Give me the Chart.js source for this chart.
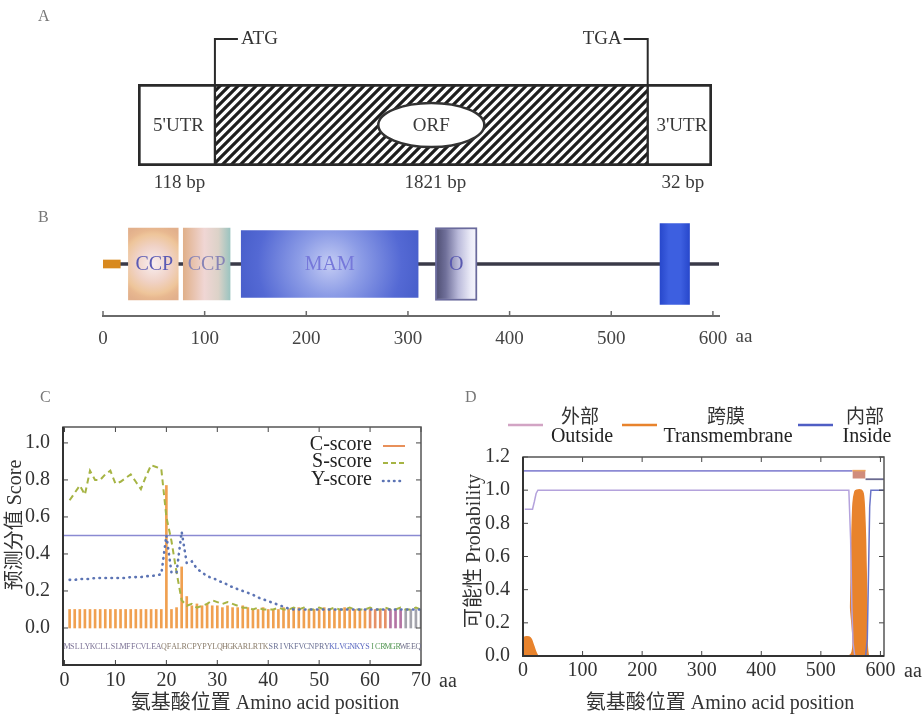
<!DOCTYPE html>
<html>
<head>
<meta charset="utf-8">
<script src="https://cdn.jsdelivr.net/npm/chart.js@4.4.1/dist/chart.umd.min.js"></script>
<style>
  body { margin: 0; background: #fff; }
  #page { position: relative; width: 923px; height: 716px; overflow: hidden; }
  canvas { position: absolute; }
  .tag { position: absolute; font: 16px "Liberation Serif", serif; color: #777; z-index: 2; }
</style>
</head>
<body>
<div id="page">
  <canvas id="chartA" width="923" height="200" style="left:0px;top:0px"></canvas>
  <canvas id="chartB" width="923" height="170" style="left:0px;top:200px"></canvas>
  <canvas id="chartC" width="460" height="336" style="left:0px;top:380px"></canvas>
  <canvas id="chartD" width="463" height="336" style="left:460px;top:380px"></canvas>
  <span class="tag" style="left:38px;top:7px">A</span>
  <span class="tag" style="left:38px;top:208px">B</span>
  <span class="tag" style="left:40px;top:388px">C</span>
  <span class="tag" style="left:465px;top:388px">D</span>
</div>
<script>
// ---------- data ----------
// A: transcript structure (schematic widths, not to scale)
const mrnaParts = ["5'UTR", "ORF", "3'UTR"];
const mrnaLengths = ["118 bp", "1821 bp", "32 bp"];
const mrnaSpans = [[0, 1.34], [1.34, 8.88], [8.88, 10]];
const codonLabels = ["ATG", "TGA"];

// B: domain architecture (aa)
const proteinLength = 606;
const signalSpan = [0, 17];
const domainNames = ["CCP", "CCP", "MAM", "O"];
const domainSpans = [[25, 74], [79, 125], [136, 310], [327, 368]];
const tmSpan = [548, 577];
const aaTicks = [0, 100, 200, 300, 400, 500, 600];

// C: SignalP scores, residues 1-70
const sequence = "MSLLYKCLLSLMFFCVLEAQFALRCPYPYLQHGKARLRTKSRIVKFVCNPRYKLVGNKYSICRMGRWEEQ";
const positions = Array.from(sequence, (_, i) => i + 1);
const cScore = [
  0.10, 0.10, 0.10, 0.10, 0.10, 0.10, 0.10, 0.10, 0.10, 0.10,
  0.10, 0.10, 0.10, 0.10, 0.10, 0.10, 0.10, 0.10, 0.10, 0.77,
  0.10, 0.11, 0.33, 0.17, 0.12, 0.13, 0.12, 0.13, 0.12, 0.12,
  0.11, 0.12, 0.11, 0.11, 0.12, 0.11, 0.10, 0.10, 0.11, 0.10,
  0.10, 0.10, 0.11, 0.10, 0.10, 0.11, 0.10, 0.10, 0.10, 0.10,
  0.11, 0.10, 0.10, 0.10, 0.11, 0.10, 0.10, 0.10, 0.10, 0.10,
  0.10, 0.10, 0.10, 0.10, 0.10, 0.10, 0.10, 0.10, 0.10, 0.10
];
const sScore = [
  0.69, 0.73, 0.77, 0.72, 0.85, 0.80, 0.80, 0.83, 0.85, 0.78,
  0.79, 0.81, 0.83, 0.79, 0.75, 0.82, 0.88, 0.87, 0.86, 0.60,
  0.47, 0.30, 0.15, 0.12, 0.13, 0.11, 0.12, 0.13, 0.15, 0.14,
  0.13, 0.14, 0.13, 0.12, 0.11, 0.11, 0.10, 0.11, 0.10, 0.10,
  0.10, 0.11, 0.10, 0.10, 0.11, 0.10, 0.11, 0.10, 0.10, 0.11,
  0.10, 0.10, 0.11, 0.10, 0.10, 0.11, 0.10, 0.10, 0.10, 0.11,
  0.10, 0.10, 0.11, 0.10, 0.10, 0.11, 0.10, 0.10, 0.11, 0.10
];
const yScore = [
  0.26, 0.26, 0.265, 0.265, 0.265, 0.27, 0.27, 0.27, 0.27, 0.27,
  0.27, 0.27, 0.275, 0.275, 0.275, 0.28, 0.28, 0.285, 0.29, 0.50,
  0.30, 0.30, 0.52, 0.35, 0.36, 0.32, 0.30, 0.28, 0.27, 0.26,
  0.245, 0.235, 0.22, 0.21, 0.20, 0.19, 0.18, 0.165, 0.155, 0.145,
  0.135, 0.125, 0.115, 0.105, 0.10, 0.10, 0.10, 0.10, 0.10, 0.10,
  0.10, 0.10, 0.10, 0.10, 0.10, 0.10, 0.10, 0.10, 0.10, 0.10,
  0.10, 0.10, 0.10, 0.10, 0.10, 0.10, 0.10, 0.10, 0.10, 0.10
];
const cutoff = 0.5;
const scoreTicks = [0, 0.2, 0.4, 0.6, 0.8, 1.0];
const posTicks = [0, 10, 20, 30, 40, 50, 60, 70];

// D: TMHMM posterior probabilities
const tmPos = [0, 3, 10, 14, 18, 22, 26, 547, 550, 552, 554, 557, 560, 568, 571, 573, 575, 577, 580, 606];
const tmProb = [0.08, 0.115, 0.115, 0.10, 0.06, 0.02, 0, 0, 0.3, 0.7, 0.92, 0.99, 1.0, 1.0, 0.98, 0.9, 0.7, 0.35, 0, 0];
const outPos = [3, 16, 19, 22, 25, 547, 550, 552, 554, 557, 606];
const outProb = [0.885, 0.885, 0.93, 0.98, 1.0, 1.0, 0.7, 0.3, 0.08, 0, 0];
const inPos = [0, 575, 578, 580, 582, 584, 606];
const inProb = [0, 0, 0.1, 0.5, 0.9, 1.0, 1.0];
const topoOutside = [1, 553];
const topoTM = [553, 575];
const topoInside = [575, 606];
const probTicks = [0, 0.2, 0.4, 0.6, 0.8, 1.0, 1.2];

// ---------- helpers ----------
const SERIF = '"Liberation Serif", "Noto Sans CJK SC", serif';
Chart.defaults.font.family = SERIF;
Chart.defaults.color = '#333';
Chart.defaults.animation = false;
Chart.defaults.plugins.legend.display = false;
Chart.defaults.plugins.tooltip.enabled = false;

function text(ctx, str, x, y, size, color, align = 'center', rot = 0) {
  ctx.save();
  ctx.font = size + 'px ' + SERIF;
  ctx.fillStyle = color;
  ctx.textAlign = align;
  ctx.textBaseline = 'middle';
  ctx.translate(x, y);
  if (rot) ctx.rotate(rot);
  ctx.fillText(str, 0, 0);
  ctx.restore();
}

function frame(chart, len) {
  const { ctx, chartArea: a, scales: { x, y } } = chart;
  ctx.save();
  ctx.strokeStyle = '#444';
  ctx.lineWidth = 1;
  ctx.beginPath();
  x.ticks.forEach(t => {
    const px = x.getPixelForValue(t.value);
    ctx.moveTo(px, a.bottom); ctx.lineTo(px, a.bottom - len);
    ctx.moveTo(px, a.top); ctx.lineTo(px, a.top + len);
  });
  y.ticks.forEach(t => {
    const py = y.getPixelForValue(t.value);
    ctx.moveTo(a.left, py); ctx.lineTo(a.left + len, py);
    ctx.moveTo(a.right, py); ctx.lineTo(a.right - len, py);
  });
  ctx.stroke();
  ctx.lineWidth = 1.5;
  ctx.strokeStyle = '#555';
  ctx.strokeRect(a.left, a.top, a.width, a.height);
  ctx.lineWidth = 2;
  ctx.strokeStyle = '#333';
  ctx.beginPath();
  ctx.moveTo(a.left, a.top); ctx.lineTo(a.left, a.bottom); ctx.lineTo(a.right, a.bottom);
  ctx.stroke();
  ctx.restore();
}

const fixTicks = arr => scale => { scale.ticks = arr.map(v => ({ value: v })); };

// ---------- A ----------
const tile = document.createElement('canvas');
tile.width = tile.height = 9;
{
  const t = tile.getContext('2d');
  t.fillStyle = '#fff';
  t.fillRect(0, 0, 9, 9);
  t.strokeStyle = '#1e1e1e';
  t.lineWidth = 3.2;
  t.beginPath();
  [-9, 0, 9].forEach(k => { t.moveTo(k - 2, 11); t.lineTo(k + 11, -2); });
  t.stroke();
}
const hatch = document.getElementById('chartA').getContext('2d').createPattern(tile, 'repeat');

new Chart(document.getElementById('chartA'), {
  type: 'bar',
  data: {
    labels: ['mRNA'],
    datasets: mrnaParts.map((p, i) => ({
      label: p,
      data: [mrnaSpans[i]],
      backgroundColor: i === 1 ? hatch : '#fff',
      borderColor: '#2a2a2a',
      borderWidth: { top: 3, bottom: 3, left: i === 0 ? 3 : 1.5, right: i === 2 ? 3 : 1.5 },
      borderSkipped: false,
      barPercentage: 1,
      categoryPercentage: 1,
      grouped: false
    }))
  },
  options: {
    responsive: false,
    indexAxis: 'y',
    layout: { padding: { left: 138, right: 211, top: 84, bottom: 34 } },
    scales: {
      x: { type: 'linear', display: false, min: 0, max: 10 },
      y: { display: false }
    }
  },
  plugins: [{
    id: 'mrnaDecor',
    afterDatasetsDraw(chart) {
      const { ctx, chartArea: a } = chart;
      const centers = mrnaSpans.map(s => chart.scales.x.getPixelForValue((s[0] + s[1]) / 2));
      const xs = chart.scales.x;
      const cy = (a.top + a.bottom) / 2;
      // ORF ellipse
      ctx.save();
      ctx.beginPath();
      ctx.ellipse(centers[1], cy, 53, 22, 0, 0, Math.PI * 2);
      ctx.fillStyle = '#fff';
      ctx.fill();
      ctx.lineWidth = 2.5;
      ctx.strokeStyle = '#333';
      ctx.stroke();
      // start / stop codon brackets
      const x0 = xs.getPixelForValue(mrnaSpans[1][0]);
      const x1 = xs.getPixelForValue(mrnaSpans[1][1]);
      const topY = 39;
      ctx.lineWidth = 2;
      ctx.strokeStyle = '#2a2a2a';
      ctx.beginPath();
      ctx.moveTo(x0, a.top); ctx.lineTo(x0, topY); ctx.lineTo(x0 + 23, topY);
      ctx.moveTo(x1, a.top); ctx.lineTo(x1, topY); ctx.lineTo(x1 - 24, topY);
      ctx.stroke();
      ctx.restore();
      text(ctx, codonLabels[0], x0 + 26, topY, 19, '#333', 'left');
      text(ctx, codonLabels[1], x1 - 26, topY, 19, '#333', 'right');
      mrnaParts.forEach((p, i) => {
        text(ctx, p, centers[i] + (i === 1 ? 0 : 2), cy + 1, 19, '#3a3a3a');
        text(ctx, mrnaLengths[i], centers[i] + (i === 1 ? 4 : 3), 183, 19, '#3a3a3a');
      });
    }
  }]
});

// ---------- B ----------
function domainFill(kind) {
  return c => {
    const { chart, raw } = c;
    if (!chart.chartArea || !raw) return '#c8c8e0';
    const g2 = chart.ctx;
    const x0 = chart.scales.x.getPixelForValue(raw[0]);
    const x1 = chart.scales.x.getPixelForValue(raw[1]);
    const cx = (x0 + x1) / 2, cy = chart.scales.y.getPixelForValue(0);
    let g;
    if (kind === 0) {
      g = g2.createRadialGradient(cx, cy, 0, cx, cy, 40);
      g.addColorStop(0, '#f8eef0'); g.addColorStop(0.45, '#f0d2c6');
      g.addColorStop(0.75, '#eec59a'); g.addColorStop(0.85, '#e8b890'); g.addColorStop(1, '#e2b08c');
    } else if (kind === 1) {
      g = g2.createLinearGradient(x0, 0, x1, 0);
      g.addColorStop(0, '#e0b08a'); g.addColorStop(0.45, '#f0d6d4');
      g.addColorStop(0.75, '#dcd2c8'); g.addColorStop(1, '#9cc4c0');
    } else if (kind === 2) {
      g = g2.createRadialGradient(cx, cy, 0, cx, cy, 90);
      g.addColorStop(0, '#c4ccf4'); g.addColorStop(0.35, '#8c9ce6');
      g.addColorStop(0.8, '#5469d4'); g.addColorStop(1, '#4a60cc');
    } else if (kind === 3) {
      g = g2.createLinearGradient(x0, 0, x1, 0);
      g.addColorStop(0, '#4c4c70'); g.addColorStop(0.25, '#70709a');
      g.addColorStop(0.55, '#babada'); g.addColorStop(0.85, '#ececf8'); g.addColorStop(1, '#f6f6fc');
    } else {
      g = g2.createLinearGradient(x0, 0, x1, 0);
      g.addColorStop(0, '#2848cc'); g.addColorStop(0.3, '#3d5fe0');
      g.addColorStop(0.7, '#3d5fe0'); g.addColorStop(1, '#2848cc');
    }
    return g;
  };
}
const domainThick = [72, 72, 67, 73];
const domainLabelColors = ['#5a5ab4', '#8884b6', '#7678da', '#5a5ab0'];

new Chart(document.getElementById('chartB'), {
  type: 'bar',
  data: {
    labels: ['protein'],
    datasets: [
      { label: 'TM', data: [tmSpan], backgroundColor: domainFill(4), barThickness: 81, order: 1 },
      ...domainSpans.map((s, i) => ({
        label: domainNames[i], data: [s], backgroundColor: domainFill(i),
        barThickness: domainThick[i], order: 2,
        borderColor: '#6a6a9c', borderWidth: i === 3 ? 2 : 0
      })),
      { label: 'signal', data: [signalSpan], backgroundColor: '#d8891e', barThickness: 8, order: 3 },
      { label: 'backbone', data: [[signalSpan[1], proteinLength]], backgroundColor: '#3a3a48', barThickness: 3, order: 4 }
    ].map(d => Object.assign({ grouped: false, borderSkipped: false }, d))
  },
  options: {
    responsive: false,
    indexAxis: 'y',
    layout: { padding: { left: 103, right: 204, top: 12, bottom: 0 } },
    scales: {
      x: {
        type: 'linear', min: 0, max: proteinLength,
        afterBuildTicks: fixTicks(aaTicks),
        afterFit: s => { s.height = 54; },
        grid: { display: false },
        border: { display: true, color: '#6a6a6a', width: 2 },
        ticks: { font: { size: 19 }, color: '#444', padding: 4 }
      },
      y: { display: false }
    }
  },
  plugins: [{
    id: 'domainDecor',
    afterDraw(chart) {
      const { ctx, chartArea: a, scales: { x } } = chart;
      ctx.save();
      ctx.strokeStyle = '#6a6a6a';
      ctx.lineWidth = 1.5;
      ctx.beginPath();
      aaTicks.forEach(v => {
        const px = x.getPixelForValue(v);
        ctx.moveTo(px, a.bottom); ctx.lineTo(px, a.bottom - 5);
      });
      ctx.stroke();
      ctx.restore();
      const cy = chart.scales.y.getPixelForValue(0) + 1;
      domainSpans.forEach((s, i) => {
        text(ctx, domainNames[i], x.getPixelForValue((s[0] + s[1]) / 2) + (i === 0 ? 1 : 0), cy, 20, domainLabelColors[i]);
      });
      text(ctx, 'aa', x.getPixelForValue(600) + 31, 137, 19, '#444');
    }
  }]
});

// ---------- C ----------
const cBarColors = positions.map(p => p < 60 ? '#f0a050' : p < 64 ? '#e69066' : p < 67 ? '#b474a4' : '#a4a4ac');
const seqColors = positions.map(p => p < 20 ? '#7a7094' : p < 41 ? '#8a7c6a' : p < 53 ? '#6a7094' : p < 61 ? '#5a68c0' : p < 67 ? '#5a9a5a' : '#70708a');
const xy = vals => positions.map((p, i) => ({ x: p, y: vals[i] }));

new Chart(document.getElementById('chartC'), {
  type: 'line',
  data: {
    datasets: [
      { label: 'Y-score', data: xy(yScore), borderColor: '#5c74b4', borderWidth: 2.6, borderDash: [0.5, 5.5], borderCapStyle: 'round', pointRadius: 0, order: 1 },
      { label: 'S-score', data: xy(sScore), borderColor: '#a6b444', borderWidth: 2, borderDash: [6, 4], pointRadius: 0, order: 2 },
      { label: 'cutoff', data: [{ x: -0.3, y: cutoff }, { x: 70, y: cutoff }], borderColor: '#8a8ad2', borderWidth: 1.5, pointRadius: 0, order: 3 },
      { type: 'bar', label: 'C-score', data: xy(cScore), backgroundColor: cBarColors, barThickness: 2, order: 4 }
    ]
  },
  options: {
    responsive: false,
    layout: { padding: { left: 0, right: 39, top: 47, bottom: 0 } },
    scales: {
      x: {
        type: 'linear', min: -0.3, max: 70, offset: false,
        afterBuildTicks: fixTicks(posTicks),
        afterFit: s => { s.height = 51; },
        grid: { display: false }, border: { display: false },
        ticks: { font: { size: 20 }, color: '#333', padding: -4 }
      },
      y: {
        type: 'linear', min: -0.2, max: 1.086,
        afterBuildTicks: fixTicks(scoreTicks),
        afterFit: s => { s.width = 63; },
        grid: { display: false }, border: { display: false },
        ticks: { font: { size: 20 }, color: '#333', padding: 5, callback: v => v.toFixed(1) }
      }
    }
  },
  plugins: [{
    id: 'signalpDecor',
    afterDraw(chart) {
      const { ctx, scales: { x } } = chart;
      frame(chart, 5);
      ctx.save();
      ctx.font = '8px ' + SERIF;
      ctx.textAlign = 'center';
      ctx.textBaseline = 'middle';
      Array.from(sequence).forEach((ch, i) => {
        ctx.fillStyle = seqColors[i];
        ctx.fillText(ch, x.getPixelForValue(positions[i] - 0.5), 267);
      });
      ctx.restore();
      const legend = [['C-score', '#e8905a', []], ['S-score', '#a6b444', [5, 3]], ['Y-score', '#5c74b4', [0.5, 5]]];
      const ly = [65, 82, 100];
      legend.forEach(([name, color, dash], i) => {
        text(ctx, name, 372, ly[i], 20, '#222', 'right');
        ctx.save();
        ctx.strokeStyle = color;
        ctx.lineWidth = i === 2 ? 2.6 : 2;
        ctx.lineCap = i === 2 ? 'round' : 'butt';
        ctx.setLineDash(dash);
        ctx.beginPath(); ctx.moveTo(383, ly[i] + 1); ctx.lineTo(405, ly[i] + 1); ctx.stroke();
        ctx.restore();
      });
      text(ctx, 'aa', 448, 302, 20, '#333');
      text(ctx, '氨基酸位置 Amino acid position', 265, 324, 20, '#333');
      text(ctx, '预测分值 Score', 16, 145, 20, '#333', 'center', -Math.PI / 2);
    }
  }]
});

// ---------- D ----------
const pts = (xsArr, ysArr) => xsArr.map((v, i) => ({ x: v, y: ysArr[i] }));
const OUT_C = '#b4a2dc', TM_C = '#e8832c', IN_C = '#6a74c8';

new Chart(document.getElementById('chartD'), {
  type: 'line',
  data: {
    datasets: [
      { label: 'topo-tm', data: pts(topoTM, [1.118, 1.118]), borderColor: '#eba460', backgroundColor: '#d08c7c', borderWidth: 1.5, fill: { value: 1.07 }, pointRadius: 0 },
      { label: 'topo-out', data: pts(topoOutside, [1.116, 1.116]), borderColor: '#8c8ad4', borderWidth: 1.8, pointRadius: 0 },
      { label: 'topo-in', data: pts(topoInside, [1.066, 1.066]), borderColor: '#6a6a90', borderWidth: 1.8, pointRadius: 0 },
      { label: 'Outside', data: pts(outPos, outProb), borderColor: OUT_C, borderWidth: 1.5, pointRadius: 0 },
      { label: 'Inside', data: pts(inPos, inProb), borderColor: IN_C, borderWidth: 1.5, pointRadius: 0 },
      { label: 'Transmembrane', data: pts(tmPos, tmProb), borderColor: TM_C, backgroundColor: TM_C, borderWidth: 1.5, fill: 'origin', pointRadius: 0, tension: 0.2 }
    ]
  },
  options: {
    responsive: false,
    layout: { padding: { left: 0, right: 39, top: 77, bottom: 0 } },
    scales: {
      x: {
        type: 'linear', min: 0, max: proteinLength,
        afterBuildTicks: fixTicks(aaTicks),
        afterFit: s => { s.height = 60; },
        grid: { display: false }, border: { display: false },
        ticks: { font: { size: 20 }, color: '#333', padding: -5 }
      },
      y: {
        type: 'linear', min: 0, max: 1.2,
        afterBuildTicks: fixTicks(probTicks),
        afterFit: s => { s.width = 63; },
        grid: { display: false }, border: { display: false },
        ticks: { font: { size: 20 }, color: '#333', padding: 5, callback: v => v.toFixed(1) }
      }
    }
  },
  plugins: [{
    id: 'tmhmmDecor',
    afterDraw(chart) {
      const { ctx } = chart;
      frame(chart, 5);
      const items = [['外部', 'Outside', '#d2a4c4', 48], ['跨膜', 'Transmembrane', TM_C, 162], ['内部', 'Inside', '#4f5ec4', 338]];
      const cx = [120, 266, 405];
      items.forEach(([zh, en, color, x0], i) => {
        ctx.save();
        ctx.strokeStyle = color;
        ctx.lineWidth = 2.5;
        ctx.beginPath(); ctx.moveTo(x0, 45); ctx.lineTo(x0 + 35, 45); ctx.stroke();
        ctx.restore();
        text(ctx, zh, cx[i], 38, 19, '#333');
        text(ctx, en, cx[i] + 2, 57, 20, '#222');
      });
      text(ctx, 'aa', 453, 292, 20, '#333');
      text(ctx, '氨基酸位置 Amino acid position', 260, 324, 20, '#333');
      text(ctx, '可能性 Probability', 15, 171, 20, '#333', 'center', -Math.PI / 2);
    }
  }]
});
</script>
</body>
</html>
